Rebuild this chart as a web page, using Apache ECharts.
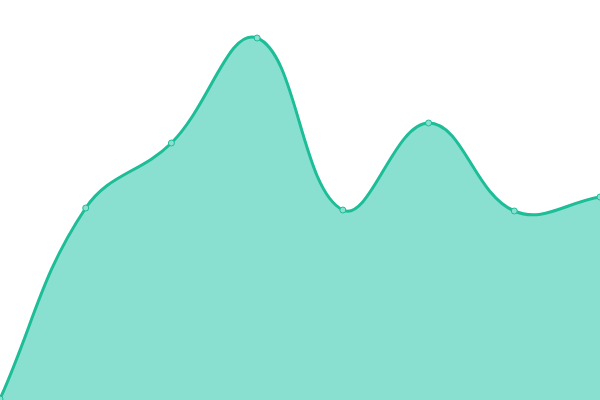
<!DOCTYPE html>
<html><head><meta charset="utf-8">
<script src="https://cdn.jsdelivr.net/npm/echarts@6/dist/echarts.min.js"></script>
<style>html,body{margin:0;padding:0;background:#fff}#c{width:600px;height:400px}</style>
</head><body><div id="c"></div>
<script>
var categories = ['1','2','3','4','5','6','7','8'];
var values = [1, 192, 257, 362, 190, 277, 189, 203];
var lineColor = '#1dbd98';
var fillColor = '#8ae0d0';
var tension = 0.4;

function splinePath(pts, t, area) {
  var n = pts.length;
  var cps = [];
  for (var i = 0; i < n; i++) {
    var prev = pts[i - 1] || pts[i], cur = pts[i], next = pts[i + 1] || pts[i];
    var d01 = Math.hypot(cur[0] - prev[0], cur[1] - prev[1]);
    var d12 = Math.hypot(next[0] - cur[0], next[1] - cur[1]);
    var s01 = d01 / (d01 + d12), s12 = d12 / (d01 + d12);
    if (isNaN(s01)) s01 = 0; if (isNaN(s12)) s12 = 0;
    var fa = t * s01, fb = t * s12;
    var c = function (x, y) {
      return [Math.min(Math.max(x, area.x), area.x + area.width),
              Math.min(Math.max(y, area.y), area.y + area.height)];
    };
    cps.push({
      p: c(cur[0] - fa * (next[0] - prev[0]), cur[1] - fa * (next[1] - prev[1])),
      n: c(cur[0] + fb * (next[0] - prev[0]), cur[1] + fb * (next[1] - prev[1]))
    });
  }
  var d = 'M' + pts[0][0] + ' ' + pts[0][1];
  for (var j = 1; j < n; j++) {
    d += ' C' + cps[j - 1].n[0] + ' ' + cps[j - 1].n[1] + ' ' + cps[j].p[0] + ' ' + cps[j].p[1] + ' ' + pts[j][0] + ' ' + pts[j][1];
  }
  return d;
}

var chart = echarts.init(document.getElementById('c'));
chart.setOption({
  animation: false,
  grid: {left: 0, right: 0, top: 0, bottom: 0},
  xAxis: {type: 'category', data: categories, boundaryGap: false, show: false},
  yAxis: {type: 'value', min: 0, max: 400, show: false},
  series: [{
    type: 'custom',
    silent: true,
    clip: false,
    data: values,
    z: 1,
    renderItem: function (params, api) {
      if (params.dataIndex !== 0) return null;
      var pts = values.map(function (v, i) { return api.coord([i, v]); });
      var area = params.coordSys;
      var linePath = splinePath(pts, tension, area);
      var baseY = api.coord([0, 0])[1];
      var areaPath = linePath + ' L' + pts[pts.length - 1][0] + ' ' + baseY + ' L' + pts[0][0] + ' ' + baseY + ' Z';
      return {
        type: 'group',
        children: [
          {type: 'path', shape: {pathData: areaPath}, style: {fill: fillColor, stroke: null}},
          {type: 'path', shape: {pathData: linePath}, style: {fill: null, stroke: lineColor, lineWidth: 3, lineJoin: 'round'}}
        ]
      };
    }
  }, {
    type: 'scatter',
    data: values,
    symbol: 'circle',
    symbolSize: 6,
    z: 3,
    itemStyle: {color: fillColor, borderColor: lineColor, borderWidth: 1, opacity: 1}
  }]
});
</script></body></html>
